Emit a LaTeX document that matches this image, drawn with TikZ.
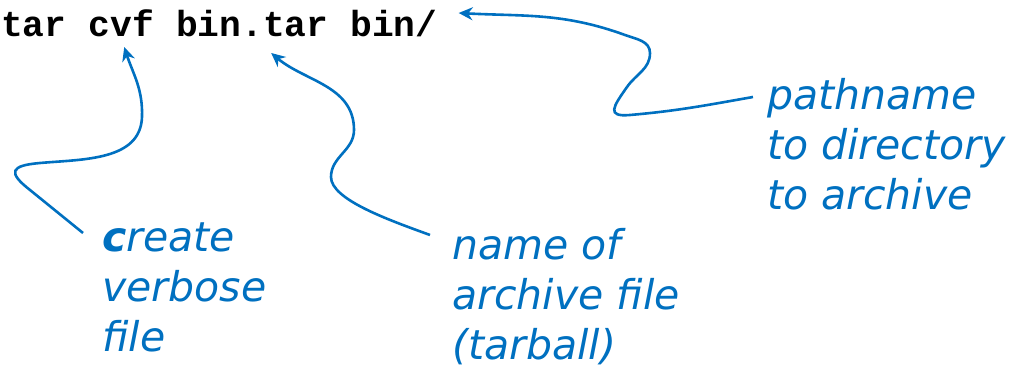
\documentclass[tikz,border=0pt]{standalone}
\usepackage{fontspec}
\usetikzlibrary{positioning,arrows.meta}
\newfontfamily\cmdfont{Liberation Mono}
\newfontfamily\notefont{DejaVu Sans}
\definecolor{noteblue}{HTML}{0070C0}

\begin{document}
\begin{tikzpicture}
    [x=1pt, y=1pt,
     cmd/.style={anchor=base west, inner sep=0pt, font=\cmdfont\bfseries\fontsize{36.25}{40}\selectfont},
     note/.style={anchor=base west, inner sep=0pt, align=left, text=noteblue,
                  font=\notefont\itshape\fontsize{41}{50}\selectfont},
     pointer/.style={draw=noteblue, line width=2.6pt, -{Stealth[length=14pt,width=13pt]}}]
    \useasboundingbox (0,0) rectangle (1018,369);

    % the command line, one node per word
    \node[cmd] (tar) at (1,332) {tar};
    \node[cmd, base right=21.75pt of tar] (cvf) {cvf};
    \node[cmd, base right=21.75pt of cvf] (bintar) {bin.tar};
    \node[cmd, base right=21.75pt of bintar] (bindir) {bin/};

    % what each part means (base = last line)
    \node[note] (create) at (102,17) {{\bfseries c}reate\\verbose\\file};
    \node[note] (tarball) at (452,9) {name of\\archive file\\(tarball)};
    \node[note] (dirpath) at (767,159) {pathname\\to directory\\to archive};

    \draw[pointer] ([shift={(-19pt,119pt)}]create.base west) -- (30,179)
        to[out=142,in=185,looseness=2.6] (40,206)
        to[out=5,in=-92] (142,252)
        to[out=88,in=-72] ([shift={(3pt,-10pt)}]cvf.base);
    \draw[pointer] ([shift={(-22pt,125pt)}]tarball.base west)
        to[out=160,in=-90,in looseness=0.5] (331,192)
        to[out=90,in=-90] (354,239)
        to[out=90,in=-40] ([shift={(19pt,-16pt)}]bintar.base);
    \draw[pointer] ([shift={(-14pt,113pt)}]dirpath.base west)
        to[out=190,in=5] (630,254)
        to[out=185,in=-125,looseness=2.2] (627,282)
        to[out=55,in=-90] (650,316)
        to[out=90,in=-20] (625,334)
        to[out=160,in=-3] ([shift={(21pt,24pt)}]bindir.base east);
\end{tikzpicture}
\end{document}
